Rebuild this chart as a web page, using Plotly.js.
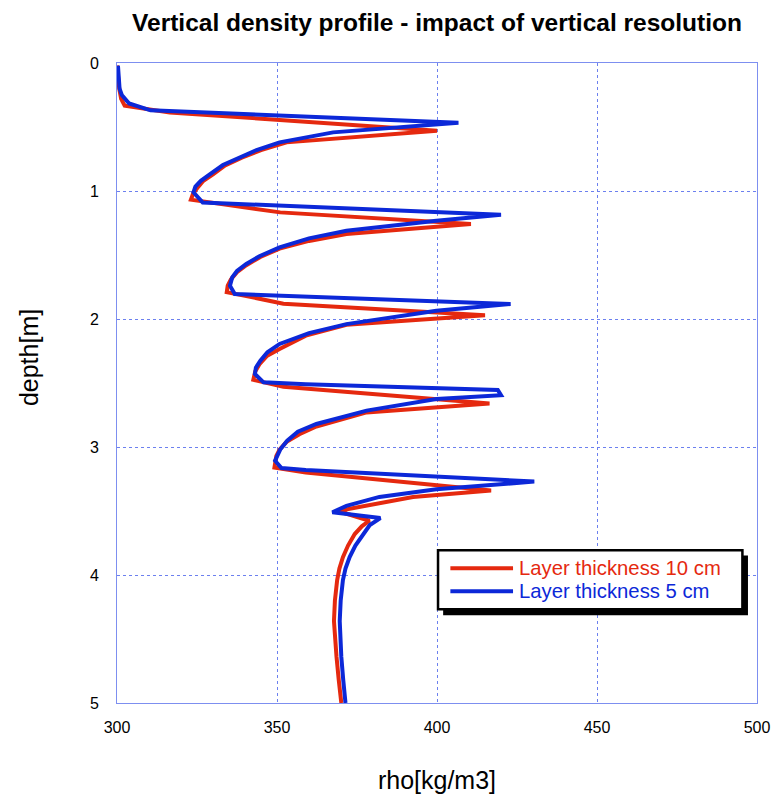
<!DOCTYPE html>
<html>
<head>
<meta charset="utf-8">
<script src="https://cdn.plot.ly/plotly-3.0.1.min.js"></script>
<style>
  html, body { margin: 0; padding: 0; background: #fff; }
  #chart { width: 774px; height: 797px; }
</style>
</head>
<body>
<div id="chart"></div>
<script>
// Density profile with 10 cm layers
const depth10 = [0.02, 0.10, 0.20, 0.28, 0.334, 0.386, 0.529,
  0.62, 0.68, 0.74, 0.80, 0.87, 0.92, 0.97, 1.02, 1.068,
  1.167, 1.258,
  1.336, 1.39, 1.45, 1.515, 1.58, 1.635, 1.69, 1.74, 1.79,
  1.88, 1.97,
  2.045, 2.13, 2.235, 2.29, 2.35, 2.41, 2.475,
  2.53, 2.66,
  2.73, 2.84, 2.90, 2.96, 3.02, 3.07, 3.16,
  3.20, 3.34,
  3.39, 3.45, 3.50, 3.576,
  3.62, 3.68, 3.77, 3.86, 3.95, 4.04, 4.20, 4.36, 4.50, 4.64, 4.82, 5.00];
const rho10 = [300.0, 300.3, 300.7, 301.3, 302.4, 316.5, 400.0,
  353.0, 345.0, 339.0, 333.8, 330.0, 327.0, 325.3, 323.8, 323.1,
  351.0, 410.6,
  371.7, 360.0, 350.8, 344.8, 340.4, 337.5, 335.6, 334.6, 334.3,
  352.0, 415.0,
  371.7, 359.0, 350.8, 346.8, 344.6, 343.2, 342.6,
  352.0, 416.4,
  378.0, 362.3, 357.0, 353.0, 350.8, 349.8, 349.2,
  359.0, 416.9,
  392.5, 379.0, 369.0, 378.9,
  376.5, 374.3, 372.2, 370.6, 369.5, 368.8, 368.1, 367.8, 368.1, 368.6, 369.3, 370.1];

// Density profile with 5 cm layers
const depth5 = [0.02, 0.10, 0.20, 0.25, 0.316, 0.37, 0.466,
  0.542, 0.62, 0.68, 0.737, 0.797, 0.867, 0.92, 0.965, 1.01,
  1.09, 1.185,
  1.232, 1.31, 1.37, 1.44, 1.51, 1.57, 1.625, 1.675, 1.74,
  1.805, 1.883,
  1.935, 2.04, 2.11, 2.195, 2.26, 2.325, 2.38, 2.43,
  2.495, 2.51, 2.555, 2.595,
  2.625, 2.716, 2.82, 2.88, 2.95, 3.02, 3.08, 3.107,
  3.164, 3.18, 3.27,
  3.33, 3.39, 3.46, 3.51, 3.555,
  3.61, 3.68, 3.77, 3.86, 3.95, 4.04, 4.20, 4.36, 4.50, 4.64, 4.82, 5.00];
const rho5 = [300.3, 300.4, 300.8, 301.5, 303.8, 310.5, 406.7,
  367.5, 350.8, 343.6, 338.3, 333.1, 329.2, 326.2, 324.5, 323.9,
  326.8, 420.0,
  399.8, 371.7, 360.0, 350.8, 344.5, 340.4, 337.5, 336.0, 335.3,
  336.8, 423.0,
  399.8, 371.7, 360.0, 350.8, 347.0, 344.8, 343.4, 343.1,
  345.8, 359.0, 419.0, 420.0,
  399.8, 378.0, 362.3, 356.5, 353.2, 351.0, 349.8, 349.4,
  351.4, 359.0, 430.4,
  399.8, 382.0, 371.7, 367.3, 382.3,
  379.0, 376.9, 374.5, 372.7, 371.4, 370.6, 369.9, 369.6, 369.8, 370.1, 370.7, 371.4];

const xTicks = [300, 350, 400, 450, 500];
const yTicks = [0, 1, 2, 3, 4, 5];
const seriesNames = ['Layer thickness 10 cm', 'Layer thickness 5 cm'];

const RED = '#e5290f';
const BLUE = '#0c28d8';
const GRID = '#6c80ef';
const FRAME = '#7d8ff0';
const FONT = 'Liberation Sans, Arial, Helvetica, sans-serif';

const traces = [
  { x: rho10, y: depth10, type: 'scatter', mode: 'lines', name: seriesNames[0],
    line: { color: RED, width: 4 }, showlegend: false },
  { x: rho5, y: depth5, type: 'scatter', mode: 'lines', name: seriesNames[1],
    line: { color: BLUE, width: 4 }, showlegend: false }
];

// Framed legend with a drop shadow, in paper coordinates
const box = { x0: 0.5016, x1: 0.9772, y0: 0.1464, y1: 0.2386 };
const rowY = [0.2107, 0.1748];
const shapes = [
  { type: 'rect', xref: 'paper', yref: 'paper', x0: box.x0 + 0.008, x1: box.x1 + 0.0087,
    y0: box.y0 - 0.0094, y1: box.y1 - 0.008, fillcolor: '#000', line: { width: 0 }, layer: 'above' },
  { type: 'rect', xref: 'paper', yref: 'paper', x0: box.x0, x1: box.x1, y0: box.y0, y1: box.y1,
    fillcolor: '#fff', line: { color: '#000', width: 2.5 }, layer: 'above' },
  { type: 'line', xref: 'paper', yref: 'paper', x0: 0.5209, x1: 0.6188, y0: rowY[0], y1: rowY[0],
    line: { color: RED, width: 4 }, layer: 'above' },
  { type: 'line', xref: 'paper', yref: 'paper', x0: 0.5209, x1: 0.6188, y0: rowY[1], y1: rowY[1],
    line: { color: BLUE, width: 4 }, layer: 'above' }
];

const annotations = [
  { text: seriesNames[0], xref: 'paper', yref: 'paper', x: 0.626, y: rowY[0], borderpad: 0,
    xanchor: 'left', yanchor: 'middle', showarrow: false, font: { family: FONT, size: 20.3, color: RED } },
  { text: seriesNames[1], xref: 'paper', yref: 'paper', x: 0.626, y: rowY[1], borderpad: 0,
    xanchor: 'left', yanchor: 'middle', showarrow: false, font: { family: FONT, size: 20.3, color: BLUE } },
  { text: 'depth[m]', xref: 'paper', yref: 'paper', x: -0.1364, y: 0.54, textangle: -90,
    xanchor: 'center', yanchor: 'middle', showarrow: false, font: { family: FONT, size: 25, color: '#000' } }
];

const layout = {
  width: 774, height: 797,
  margin: { l: 117, r: 17, t: 63, b: 94, pad: 0 },
  paper_bgcolor: '#fff', plot_bgcolor: '#fff',
  font: { family: FONT, color: '#000' },
  title: {
    text: '<b>Vertical density profile - impact of vertical resolution</b>',
    font: { family: FONT, size: 24.5, color: '#000' },
    x: 0.5, xref: 'paper', xanchor: 'center',
    y: 0.9724, yref: 'container', yanchor: 'middle'
  },
  xaxis: {
    range: [300, 500], tickvals: xTicks, ticktext: xTicks.map(String),
    showgrid: true, gridcolor: GRID, gridwidth: 1, griddash: 'dot',
    showline: true, linecolor: FRAME, linewidth: 1, mirror: true,
    zeroline: false, ticks: '', ticklabelstandoff: 10,
    tickfont: { family: FONT, size: 16, color: '#000' },
    title: { text: 'rho[kg/m3]', font: { family: FONT, size: 25, color: '#000' }, standoff: 36 },
    automargin: false, fixedrange: true
  },
  yaxis: {
    range: [5, 0], tickvals: yTicks, ticktext: yTicks.map(String),
    showgrid: true, gridcolor: GRID, gridwidth: 1, griddash: 'dot',
    showline: true, linecolor: FRAME, linewidth: 1, mirror: true,
    zeroline: false, ticks: 'outside', ticklen: 14, tickcolor: 'rgba(0,0,0,0)',
    tickfont: { family: FONT, size: 16, color: '#000' },
    automargin: false, fixedrange: true
  },
  shapes: shapes,
  annotations: annotations,
  showlegend: false
};

Plotly.newPlot('chart', traces, layout, { staticPlot: true, displayModeBar: false });
</script>
</body>
</html>
